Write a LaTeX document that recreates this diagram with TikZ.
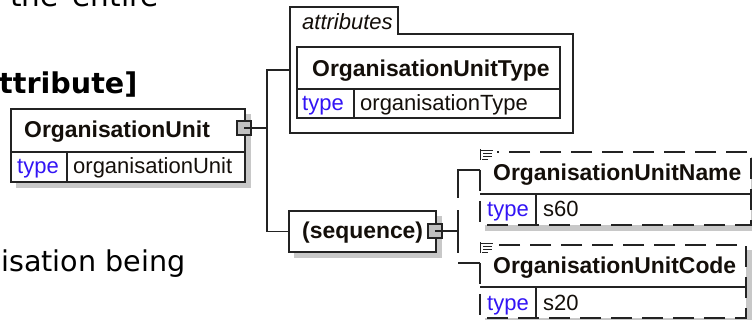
\documentclass[tikz,border=0pt]{standalone}
\usepackage{fontspec}
\setmainfont{Liberation Sans}
\newfontfamily\pagefont{DejaVu Sans}
\definecolor{typeblue}{RGB}{50,20,245}
\definecolor{shadowc}{RGB}{200,200,200}
\definecolor{linec}{RGB}{35,35,35}
\definecolor{btnc}{RGB}{192,192,192}
\definecolor{txtc}{RGB}{20,15,10}
\tikzset{
  boxline/.style={draw=linec, line width=1.3pt},
  elbox/.style={boxline, fill=white, rectangle, inner sep=0pt, outer sep=0pt, anchor=north west},
  refbox/.style={rectangle, inner sep=0pt, outer sep=0pt, anchor=north west},
  elname/.style={font=\fontsize{22.9}{26}\selectfont\bfseries, text=txtc, anchor=base west, inner sep=0pt},
  typelbl/.style={font=\fontsize{22}{25}\selectfont, text=typeblue, anchor=base west, inner sep=0pt},
  vallbl/.style={font=\fontsize{22}{25}\selectfont, text=txtc, anchor=base west, inner sep=0pt},
  attrlbl/.style={font=\fontsize{22}{25}\selectfont\itshape, text=txtc, anchor=base west, inner sep=0pt},
  pagetxt/.style={font=\pagefont\fontsize{28.6}{34}\selectfont, text=black, anchor=base west, inner sep=0pt},
  btn/.style={rectangle, draw=linec, line width=1.2pt, fill=btnc, minimum size=14pt, inner sep=0pt},
  conn/.style={draw=linec, line width=1.3pt},
  optbox/.style={draw=linec, line width=1.3pt, dash pattern=on 21pt off 10pt},
  docicon/.style={draw=linec, line width=0.9pt},
}
\begin{document}
\begin{tikzpicture}[x=1pt,y=-1pt]
\useasboundingbox (0,0) rectangle (752,320);

% surrounding page text
\node[pagetxt, font=\pagefont\fontsize{29.5}{34}\selectfont] (p1) at (10,7) {\spaceskip=14pt\relax the entire};
\node[pagetxt, font=\pagefont\bfseries\fontsize{28.6}{34}\selectfont] (p2) at (-1,94) {ttribute]};
\node[pagetxt] (p3) at (1,272) {isation being};

% shadows
\fill[shadowc] (16,114) rectangle (251,188);
\fill[shadowc] (302,52) rectangle (566,124);
\fill[shadowc] (294,216) rectangle (442,258);
\fill[shadowc] (485,157) rectangle (757,231);
\fill[shadowc] (485,250) rectangle (752,324);

% OrganisationUnit
\node[elbox, minimum width=234pt, minimum height=73pt] (ou) at (11,109) {};
\draw[boxline] (11,152) -- (245,152);
\draw[boxline] (67,152) -- (67,182);
\node[elname] (ouT) at (24,138) {OrganisationUnit};
\node[typelbl] (ouTy) at (17,174) {type};
\node[vallbl] (ouV) at (73,174) {organisationUnit};

% attributes container
\node[refbox, minimum width=283pt, minimum height=126pt] (attr) at (290,7) {};
\draw[boxline, fill=white] (290,7) -- (398,7) -- (398,34) -- (573,34) -- (573,133) -- (290,133) -- cycle;
\node[attrlbl] (attrT) at (302,30) {attributes};

% OrganisationUnitType
\node[elbox, minimum width=263pt, minimum height=71pt] (out) at (297,47) {};
\draw[boxline] (297,89) -- (560,89);
\draw[boxline] (354,89) -- (354,118);
\node[elname] (outT) at (312,77) {OrganisationUnitType};
\node[typelbl] (outTy) at (302,111) {type};
\node[vallbl] (outV) at (360,111) {organisationType};

% sequence
\node[elbox, minimum width=147pt, minimum height=41pt] (seq) at (289,211) {};
\node[elname] (seqT) at (302,239) {(sequence)};

% OrganisationUnitName (optional)
\node[refbox, minimum width=271pt, minimum height=73pt] (nm) at (480,152) {};
\fill[white] (480,152) rectangle (751,225);
\draw[optbox] (480,170) -- (480,225) -- (751,225) -- (751,152) -- (497,152);
\draw[boxline] (480,194) -- (751,194);
\draw[boxline] (536,194) -- (536,225);
\draw[docicon] (480,149.5) -- (480,160) (480,150) -- (493,150) (483,153) -- (492,153) (483,156) -- (492,156) (482,159) -- (488,159);
\node[elname] (nmT) at (493,181) {OrganisationUnitName};
\node[typelbl] (nmTy) at (487,217) {type};
\node[vallbl] (nmV) at (543,217) {s60};

% OrganisationUnitCode (optional)
\node[refbox, minimum width=266pt, minimum height=73pt] (cd) at (480,245) {};
\fill[white] (480,245) rectangle (746,318);
\draw[optbox] (480,263) -- (480,318) -- (746,318) -- (746,245) -- (497,245);
\draw[boxline] (480,287) -- (746,287);
\draw[boxline] (536,287) -- (536,318);
\draw[docicon] (480,242.5) -- (480,253) (480,243) -- (493,243) (483,246) -- (492,246) (483,249) -- (492,249) (482,252) -- (488,252);
\node[elname] (cdT) at (493,274) {OrganisationUnitCode};
\node[typelbl] (cdTy) at (487,310) {type};
\node[vallbl] (cdV) at (543,310) {s20};

% connectors
\coordinate (j1) at (267,128);
\coordinate (j2) at (458,231);
\coordinate (nmIn) at (480,170);
\coordinate (cdIn) at (480,263);
\draw[conn] (244,128) -- (j1) |- (attr.west);
\draw[conn] (j1) |- (seq.west);
\draw[conn] (435,231) -- (j2);
\draw[conn, dash pattern=on 21pt off 12pt on 300pt off 1pt] (j2) |- (nmIn);
\draw[conn, dash pattern=on 22pt off 10pt on 300pt off 1pt] (j2) |- (cdIn);

% expand buttons
\node[btn] (oub) at (244,128) {};
\draw[conn] (oub.center) -- (oub.east);
\node[btn] (seqb) at (435,231) {};
\draw[conn] (seqb.center) -- (seqb.east);
\end{tikzpicture}
\end{document}
